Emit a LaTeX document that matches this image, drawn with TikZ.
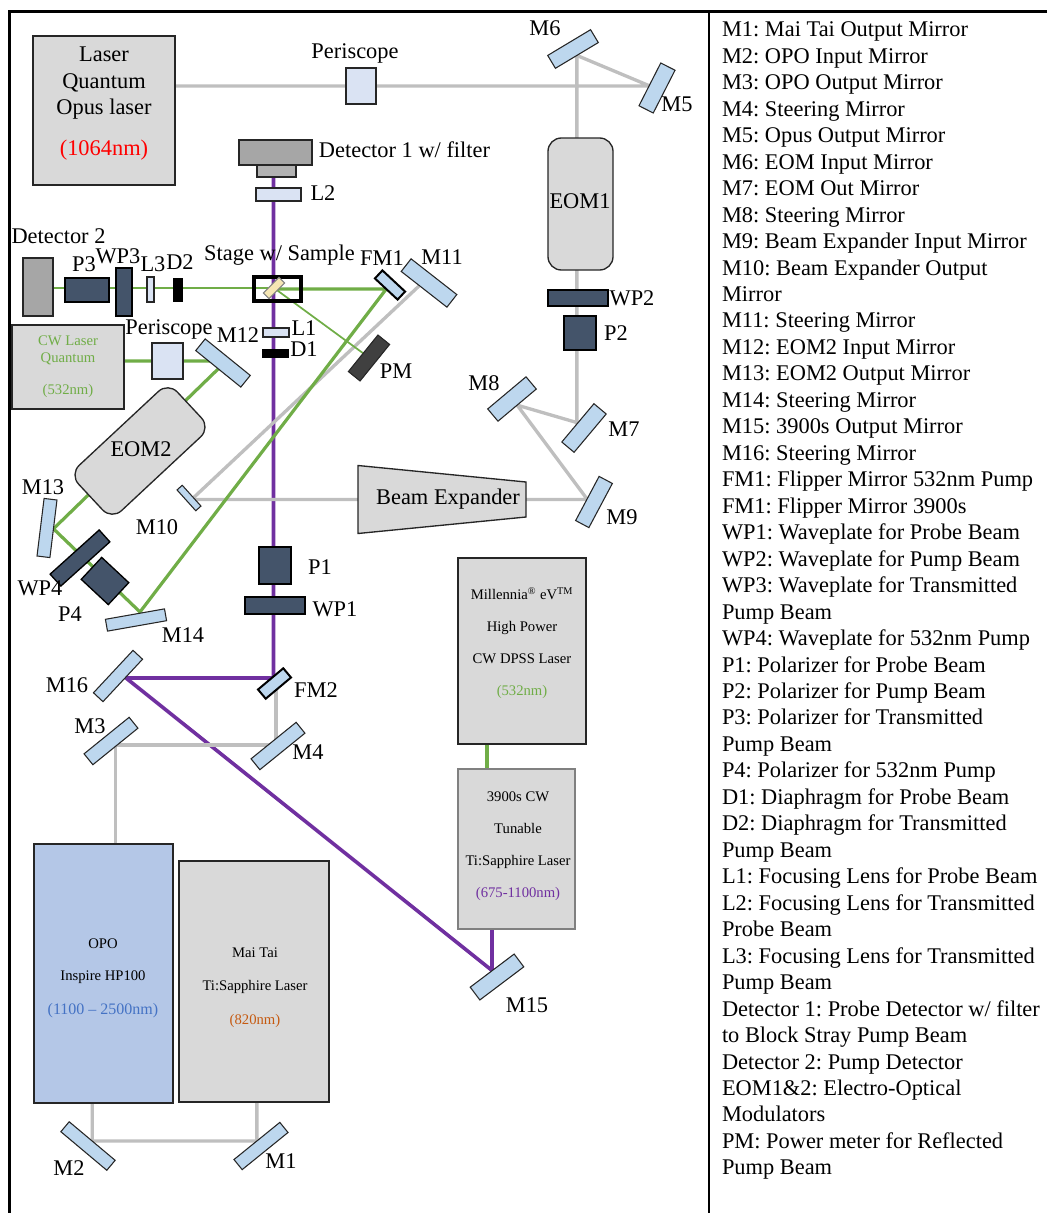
\documentclass[tikz,border=0pt]{standalone}
\usepackage{fontspec}
\setmainfont{Liberation Serif}
\usetikzlibrary{backgrounds}
\definecolor{beamgray}{HTML}{BFBFBF}
\definecolor{beamgreen}{HTML}{70AD47}
\definecolor{beampurple}{HTML}{7030A0}
\definecolor{boxgray}{HTML}{D9D9D9}
\definecolor{mirrorblue}{HTML}{BDD7EE}
\definecolor{lensblue}{HTML}{DAE3F3}
\definecolor{darkslate}{HTML}{44546A}
\definecolor{opoblue}{HTML}{B4C7E7}
\definecolor{edgegray}{HTML}{262626}
\definecolor{samplecream}{HTML}{F5E6B4}
\newcommand{\smalltxt}{\fontsize{11}{13}\selectfont}
\frenchspacing
\begin{document}
\begin{tikzpicture}[x=0.75pt, y=-0.75pt,
  every node/.style={font=\fontsize{16.8}{19.85}\selectfont, inner sep=0pt, outer sep=0pt},
  box/.style={draw=edgegray, line width=1pt, fill=boxgray},
  mirror/.style={draw=edgegray, line width=0.8pt, fill=mirrorblue},
  lens/.style={draw=edgegray, line width=1pt, fill=lensblue},
  slate/.style={draw=black, line width=1pt, fill=darkslate},
  stopper/.style={fill=black},
  boxtext/.style={align=center, font=\smalltxt},
  graybeam/.style={beamgray, line width=2.5pt},
  greenbeam/.style={beamgreen, line width=2.4pt},
  thingreen/.style={beamgreen, line width=1.3pt},
  purplebeam/.style={beampurple, line width=2.7pt}]
\useasboundingbox (0,0) rectangle (1047,1213);
% frame
\draw[line width=2.4pt] (1047,11.5)--(9.5,11.5)--(9.5,1213);
\draw[line width=1.2pt] (709,11.5)--(709,1213);
% sources and boxes
\foreach \nm/\x/\y/\w/\h in {Opus/104/110.5/142/149, CW/68/367/112/84, Mill/522/651/128/186, MaiTai/254/981.5/150/241} {
  \node[box, minimum width=\w*0.75pt, minimum height=\h*0.75pt] (\nm) at (\x,\y) {};
}
\node[box, draw=gray, minimum width=117*0.75pt, minimum height=160*0.75pt] (Ti) at (516.5,849) {};
\node[box, fill=opoblue, minimum width=139*0.75pt, minimum height=259*0.75pt] (OPO) at (103.5,973.5) {};
\node[box, rounded corners=10pt, minimum width=65*0.75pt, minimum height=132*0.75pt] (EOM1) at (580.5,204) {};
\node (EOM1txt) at (580,201) {EOM1};
\node[box, rounded corners=10pt, rotate=43, minimum width=135*0.75pt, minimum height=62*0.75pt] (EOM2) at (140,451) {};
\node (EOM2txt) at (141,449) {EOM2};
% detectors
\node[box, fill=gray!70, minimum width=30*0.75pt, minimum height=58*0.75pt] (Det2) at (38,287) {};
\node[box, fill=gray!70, minimum width=73*0.75pt, minimum height=25*0.75pt] (Det1) at (275.5,152.5) {};
\node[box, fill=gray!60, minimum width=39*0.75pt, minimum height=12*0.75pt] (Det1b) at (276.5,171) {};
% periscopes and lenses
\foreach \nm/\x/\y/\w/\h in {PeriA/361/86/30/36, PeriB/167.5/361/31/36, L1/276/332.5/26/9, L2/278.5/194.5/45/13, L3/150.5/289.5/7/25} {
  \node[lens, minimum width=\w*0.75pt, minimum height=\h*0.75pt] (\nm) at (\x,\y) {};
}
% polarizers and waveplates
\foreach \nm/\x/\y/\w/\h/\ang in {WP2/578/298/60/16/0, P2/580/333/32/34/0, P3/87/290/44/24/0, WP3/124/292/16/48/0, P1/275/565.5/32/37/0, WP1/275/605.5/60/17/0, P4/105/581/37/30/-43, WP4/80/558/66/16/42} {
  \node[slate, rotate=\ang, minimum width=\w*0.75pt, minimum height=\h*0.75pt] (\nm) at (\x,\y) {};
}
\node[stopper, minimum width=10*0.75pt, minimum height=24*0.75pt] (D2) at (178,290) {};
\node[stopper, minimum width=27*0.75pt, minimum height=9*0.75pt] (D1) at (275.5,353.5) {};
\node[draw=edgegray, line width=0.8pt, fill=black!75, rotate=51, minimum width=47*0.75pt, minimum height=15*0.75pt] (PM) at (369,358) {};
% mirrors
\foreach \nm/\x/\y/\w/\h/\ang in {M1/261/1146/59/13/39, M2/88/1146/60/13/-40, M3/111/741/58/14/39, M4/278/746/58/14/39, M5/657/88/48/16/63, M6/573/49/50/15/31, M7/584/428/50/16/50, M8/512/399/50/16/40, M9/594/502/50/15/62, M10/189/498/28/7/-48, M11/429/283/58/16/-38, M12/223/363/58/15/-39, M13/47/528/58/13/83, M14/136/620/60/12/10, M15/497/977/55/16/37, M16/118/676/58/13/47} {
  \node[mirror, rotate=\ang, minimum width=\w*0.75pt, minimum height=\h*0.75pt] (\nm) at (\x,\y) {};
}
\node[mirror, draw=black, line width=1.5pt, rotate=-43, minimum width=31*0.75pt, minimum height=11*0.75pt] (FM1) at (390,285) {};
\node[mirror, draw=black, line width=1.5pt, rotate=40, minimum width=33*0.75pt, minimum height=12*0.75pt] (FM2) at (274.5,683.5) {};
% stage and sample
\node[draw=black, line width=2.4pt, minimum width=47*0.75pt, minimum height=24*0.75pt] (Stage) at (277.5,289) {};
\node[draw=gray, line width=0.8pt, fill=samplecream, rotate=45, minimum width=22*0.75pt, minimum height=8*0.75pt] (Sample) at (274,288) {};
% beam expander
\draw[box] (358,465.5)--(526,482)--(526,517)--(358,533.5)--cycle;
\node (BE) at (448,499.5) {Beam Expander};
\coordinate (BEl) at (358,499.5);
\coordinate (BEr) at (526,499.5);
% free beam points
\coordinate (MillOut) at (487,744);
\coordinate (FM2in) at (273.5,678);
\coordinate (M16hit) at (126,678);
\coordinate (M4hit) at (276,745);
\coordinate (M11hit) at (419,286);
\coordinate (M14hit) at (140,612);
% beams
\begin{scope}[on background layer]
\draw[purplebeam] (FM2in |- Det1b.south)--(FM2in)--(M16hit)--(M15.north);
\draw[purplebeam] (M15.north |- Ti.south)--(M15.north);
\draw[graybeam] (Opus.east |- PeriA)--(PeriA)--(PeriA -| M5.north)--(M6.south)--(M6.south |- M7.north)--(M7.north)--(M8.south)--(BEr -| M9.north)--(BEr);
\draw[graybeam] (BEl)--(BEl -| M10.north)--(M11hit);
\draw[graybeam] (M4hit |- FM2)--(M4hit)--(M3.south |- M4hit)--(M3.south |- OPO.north);
\draw[graybeam] (M2.north |- OPO.south)--(M2.north)--(M1.north)--(M1.north |- MaiTai.south);
\draw[greenbeam] (MillOut)--(MillOut |- Ti.north);
\draw[greenbeam] (CW.east |- PeriB)--(PeriB)--(PeriB -| M12.south)--(M12.south)--(M13.south)--(M14hit)--(FM1.south)--(FM1.south -| Sample);
\draw[thingreen] (Det2.east |- Sample)--(Sample)--(PM.north);
\end{scope}
% short labels
\foreach \nm/\x/\y in {M1/281/1161, M2/69/1168, M3/90/726, M4/308/752, M5/677/104, M6/545/28, M7/624/429, M8/484/383, M9/622/517, M10/157/527, M11/442/257, M12/238/335, M13/43/487, M14/183/635, M15/527/1005, M16/67/685, FM1/382/258, FM2/316/690, WP1/335/609, WP2/632/298, WP3/118/256, WP4/40/588, P1/320/567, P2/616/333, P3/84/264, P4/70/614, L1/304/328, L2/323/193, L3/153/264, D1/304/349, D2/180/262, PM/396/371} {
  \node (lab\nm) at (\x,\y) {\nm};
}
\node (labPeriA) at (355,53) {Periscope};
\node (labPeriB) at (169,329) {Periscope};
\node (labDet1) at (404.5,150) {Detector 1 w/ filter};
\node (labDet2) at (58.5,236) {Detector 2};
\node (labStage) at (279.5,255) {Stage w/ Sample};
% text in the boxes
\node[align=center] (OpusTxt) at (104,104) {Laser\\Quantum\\Opus laser\\[11pt]\textcolor{red}{(1064nm)}};
\node[boxtext, text=beamgreen] (CWTxt) at (68,367) {CW Laser\\Quantum\\[11pt](532nm)};
\node[boxtext] (MillTxt) at (522,643) {Millennia\textsuperscript{®} eV\textsuperscript{TM}\\[11pt]High Power\\[11pt]CW DPSS Laser\\[11pt]\textcolor{beamgreen}{(532nm)}};
\node[boxtext] (TiTxt) at (518,846.5) {3900s CW\\[11pt]Tunable\\[11pt]Ti:Sapphire Laser\\[11pt]\textcolor{beampurple}{(675-1100nm)}};
\node[boxtext] (OPOTxt) at (103,978) {OPO\\[11pt]Inspire HP100\\[12.5pt]\textcolor[HTML]{4472C4}{\fontsize{12}{13}\selectfont(1100 – 2500nm)}};
\node[boxtext] (MaiTxt) at (255,987.5) {Mai Tai\\[12pt]Ti:Sapphire Laser\\[12pt]\textcolor[HTML]{C55A11}{(820nm)}};
% legend
\node[anchor=north west, align=left] (Legend) at (722,22) {M1: Mai Tai Output Mirror\\
M2: OPO Input Mirror\\
M3: OPO Output Mirror\\
M4: Steering Mirror\\
M5: Opus Output Mirror\\
M6: EOM Input Mirror\\
M7: EOM Out Mirror\\
M8: Steering Mirror\\
M9: Beam Expander Input Mirror\\
M10: Beam Expander Output\\
Mirror\\
M11: Steering Mirror\\
M12: EOM2 Input Mirror\\
M13: EOM2 Output Mirror\\
M14: Steering Mirror\\
M15: 3900s Output Mirror\\
M16: Steering Mirror\\
FM1: Flipper Mirror 532nm Pump\\
FM1: Flipper Mirror 3900s\\
WP1: Waveplate for Probe Beam\\
WP2: Waveplate for Pump Beam\\
WP3: Waveplate for Transmitted\\
Pump Beam\\
WP4: Waveplate for 532nm Pump\\
P1: Polarizer for Probe Beam\\
P2: Polarizer for Pump Beam\\
P3: Polarizer for Transmitted\\
Pump Beam\\
P4: Polarizer for 532nm Pump\\
D1: Diaphragm for Probe Beam\\
D2: Diaphragm for Transmitted\\
Pump Beam\\
L1: Focusing Lens for Probe Beam\\
L2: Focusing Lens for Transmitted\\
Probe Beam\\
L3: Focusing Lens for Transmitted\\
Pump Beam\\
Detector 1: Probe Detector w/ filter\\
to Block Stray Pump Beam\\
Detector 2: Pump Detector\\
EOM1\&2: Electro-Optical\\
Modulators\\
PM: Power meter for Reflected\\
Pump Beam};
\end{tikzpicture}
\end{document}
